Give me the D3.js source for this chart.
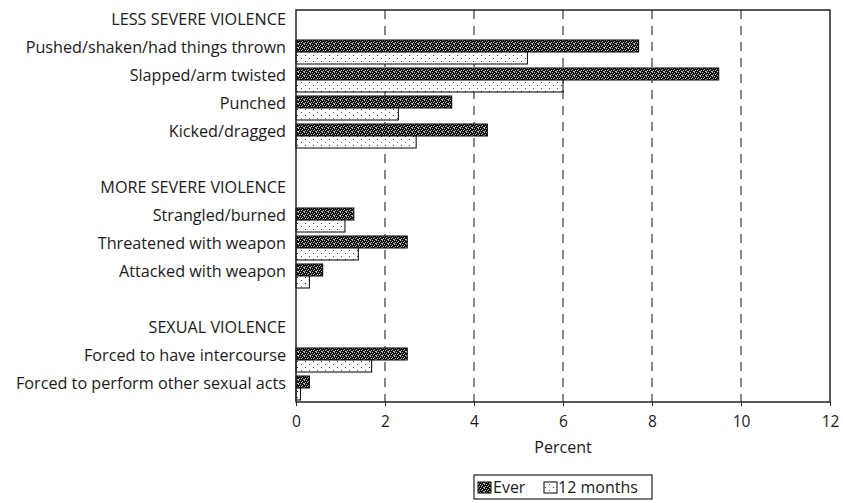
<!DOCTYPE html>
<html>
<head>
<meta charset="utf-8">
<script src="https://cdn.jsdelivr.net/npm/d3@7"></script>
<style>
  html, body { margin: 0; padding: 0; background: #fff; }
  svg text { font-family: "Open Sans", "DejaVu Sans", sans-serif; fill: #1a1a1a; }
</style>
</head>
<body>
<svg id="chart" width="843" height="503"></svg>
<script>
// ---- data ----
const labels = [
  "LESS SEVERE VIOLENCE",
  "Pushed/shaken/had things thrown",
  "Slapped/arm twisted",
  "Punched",
  "Kicked/dragged",
  "",
  "MORE SEVERE VIOLENCE",
  "Strangled/burned",
  "Threatened with weapon",
  "Attacked with weapon",
  "",
  "SEXUAL VIOLENCE",
  "Forced to have intercourse",
  "Forced to perform other sexual acts"
];
const everValues   = [null, 7.7, 9.5, 3.5, 4.3, null, null, 1.3, 2.5, 0.6, null, null, 2.5, 0.3];
const monthValues  = [null, 5.2, 6.0, 2.3, 2.7, null, null, 1.1, 1.4, 0.3, null, null, 1.7, 0.1];
const xTicks = [0, 2, 4, 6, 8, 10, 12];
const seriesNames = ["Ever", "12 months"];
const axisTitle = "Percent";

(function () {
// ---- layout ----
const svg = d3.select("#chart");
const pL = 296, pR = 830, pT = 10, pB = 402;

const x = d3.scaleLinear().domain([0, 12]).range([pL, pR]);
const y = d3.scaleBand().domain(d3.range(labels.length)).range([pT, pB]);

// patterns
const defs = svg.append("defs");
const pe = defs.append("pattern").attr("id", "pEver").attr("patternUnits", "userSpaceOnUse")
  .attr("width", 6).attr("height", 4);
pe.append("rect").attr("width", 6).attr("height", 4).attr("fill", "#111");
[[0,0],[2,1],[4,0],[1,2],[3,3],[5,2],[4,3]].forEach(([a,b]) =>
  pe.append("rect").attr("x", a).attr("y", b).attr("width", 1).attr("height", 1).attr("fill", "#bbb"));
const pm = defs.append("pattern").attr("id", "pMonth").attr("patternUnits", "userSpaceOnUse")
  .attr("width", 8).attr("height", 6);
pm.append("rect").attr("width", 8).attr("height", 6).attr("fill", "#fff");
pm.append("rect").attr("x", 1).attr("y", 1).attr("width", 1).attr("height", 1).attr("fill", "#333");
pm.append("rect").attr("x", 5).attr("y", 4).attr("width", 1).attr("height", 1).attr("fill", "#555");

// gridlines
svg.append("g").selectAll("line").data(xTicks.filter(t => t > 0 && t < 12)).join("line")
  .attr("x1", d => x(d)).attr("x2", d => x(d))
  .attr("y1", pT).attr("y2", pB)
  .attr("stroke", "#111").attr("stroke-width", 1).attr("stroke-dasharray", "9,7");

// bars
const rows = d3.range(labels.length);
const barH = 12;
svg.append("g").selectAll("rect").data(rows.filter(i => everValues[i] != null)).join("rect")
  .attr("x", x(0)).attr("y", i => y(i) + y.bandwidth() / 2 - barH)
  .attr("width", i => x(everValues[i]) - x(0)).attr("height", barH)
  .attr("fill", "url(#pEver)").attr("stroke", "#000").attr("stroke-width", 1);
svg.append("g").selectAll("rect").data(rows.filter(i => monthValues[i] != null)).join("rect")
  .attr("x", x(0)).attr("y", i => y(i) + y.bandwidth() / 2)
  .attr("width", i => x(monthValues[i]) - x(0)).attr("height", barH)
  .attr("fill", "url(#pMonth)").attr("stroke", "#000").attr("stroke-width", 1);

// frame
svg.append("rect").attr("x", pL).attr("y", pT).attr("width", pR - pL).attr("height", pB - pT)
  .attr("fill", "none").attr("stroke", "#222").attr("stroke-width", 1.5);

// x axis
const xAxis = svg.append("g").attr("transform", `translate(0,${pB})`)
  .call(d3.axisBottom(x).tickValues(xTicks).tickSize(4).tickPadding(10).tickFormat(d3.format("d")));
xAxis.select(".domain").remove();
xAxis.selectAll("line").attr("stroke", "#222");
xAxis.selectAll("text").attr("font-size", 15.5).attr("fill", "#1a1a1a")
  .style("font-family", '"Open Sans", sans-serif');

svg.append("text").attr("x", (pL + pR) / 2).attr("y", 453).attr("text-anchor", "middle")
  .attr("font-size", 16).text(axisTitle);

// category labels
svg.append("g").selectAll("text").data(rows.filter(i => labels[i] !== "")).join("text")
  .attr("x", 286).attr("y", i => y(i) + y.bandwidth() / 2 + 1)
  .attr("text-anchor", "end").attr("font-size", 16.2)
  .text(i => labels[i]);

// legend
const lg = svg.append("g");
lg.append("rect").attr("x", 474).attr("y", 475).attr("width", 178).attr("height", 24)
  .attr("fill", "#fff").attr("stroke", "#222").attr("stroke-width", 1.2);
const legendItems = [
  {name: seriesNames[0], fill: "url(#pEver)", sx: 478, tx: 493},
  {name: seriesNames[1], fill: "url(#pMonth)", sx: 544, tx: 558}
];
legendItems.forEach(it => {
  lg.append("rect").attr("x", it.sx).attr("y", 482).attr("width", 13).attr("height", 11)
    .attr("fill", it.fill).attr("stroke", "#000").attr("stroke-width", 1);
  lg.append("text").attr("x", it.tx).attr("y", 493).attr("font-size", 16).text(it.name);
});
})();
</script>
</body>
</html>
